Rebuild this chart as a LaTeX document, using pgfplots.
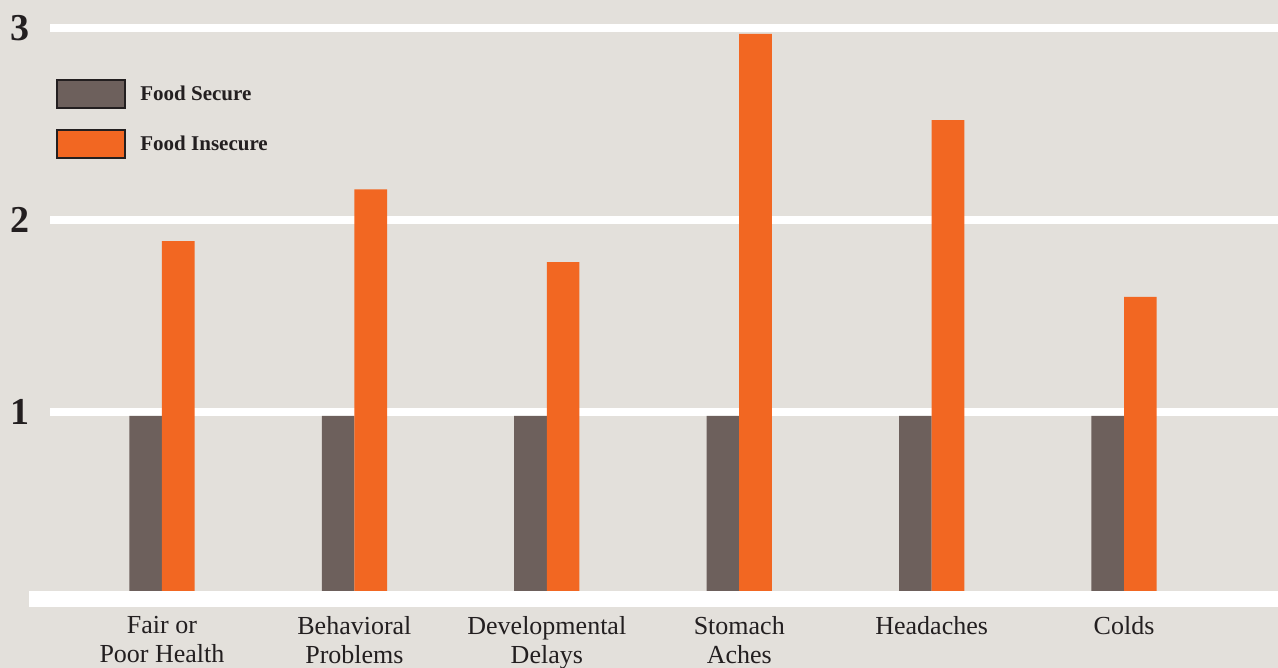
\documentclass[border=0pt]{standalone}
\usepackage{fontspec}
\setmainfont{Liberation Serif}
\usepackage{pgfplots}
\pgfplotsset{compat=1.18}

\definecolor{bgc}{HTML}{E3E0DB}
\definecolor{secure}{HTML}{6D605C}
\definecolor{insecure}{HTML}{F26722}
\definecolor{legbd}{HTML}{231F20}
\definecolor{txt}{HTML}{231F20}

\begin{document}
\begin{tikzpicture}
  \fill[bgc] (0,0) rectangle (639pt,334pt);
  \useasboundingbox (0,0) rectangle (639pt,334pt);
  \begin{axis}[
      at={(25pt,32pt)}, anchor=south west,
      scale only axis,
      width=614pt, height=297.6pt,
      xmin=-0.582, xmax=5.80,
      ymin=0, ymax=3.1,
      clip=false,
      ybar=0pt,
      bar width=16.3pt,
      axis line style={draw=none},
      major tick length=0pt,
      xtick={0,1,2,3,4,5},
      xticklabels={{Fair or\\Poor Health},{Behavioral\\Problems},{Developmental\\Delays},{Stomach\\Aches},{Headaches},{Colds}},
      xticklabel style={anchor=north, inner sep=0pt, yshift=-6pt, align=center, text=txt,
        font=\fontsize{13}{14.5}\selectfont},
      ytick={1,2,3},
      yticklabels={1,2,3},
      yticklabel style={anchor=east, inner sep=0pt, xshift=-10pt, text=txt,
        font=\fontsize{19}{20}\selectfont\bfseries},
      ymajorgrids=true,
      grid style={white, line width=4pt},
      legend style={at={(0.0049,0.882)}, anchor=north west, draw=none, fill=none,
        inner sep=0pt, row sep=10pt, column sep=7pt,
        nodes={inner sep=0pt, text=txt}, font=\fontsize{10.5}{12}\selectfont\bfseries},
      legend cell align=left,
      legend image code/.code={\draw[#1, draw=legbd, line width=1pt] (0pt,-7pt) rectangle (34pt,7pt);},
    ]
    \addplot[fill=secure, draw=none] coordinates {
        (0,0.98) (1,0.98) (2,0.98) (3,0.98) (4,0.98) (5,0.98)
      };
    \addplot[fill=insecure, draw=none] coordinates {
        (0,1.89) (1,2.16) (2,1.78) (3,2.97) (4,2.52) (5,1.60)
      };
    \legend{Food Secure, Food Insecure}
    \draw[white, line width=8pt] (axis cs:-0.69,0.026) -- (axis cs:5.80,0.026);
  \end{axis}
\end{tikzpicture}
\end{document}
